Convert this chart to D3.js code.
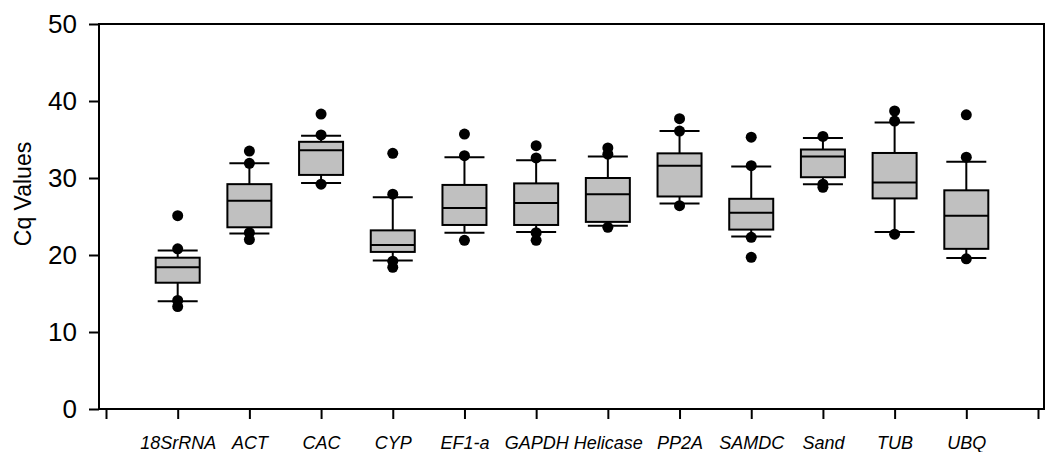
<!DOCTYPE html>
<html>
<head>
<meta charset="utf-8">
<script src="https://cdnjs.cloudflare.com/ajax/libs/d3/7.8.5/d3.min.js"></script>
<style>
  body { margin: 0; background: #fff; }
  svg { display: block; font-family: Arial, "Liberation Sans", sans-serif; }
</style>
</head>
<body>
<div id="chart"></div>
<script>
// 1. data
var genes    = ["18SrRNA", "ACT", "CAC", "CYP", "EF1-a", "GAPDH", "Helicase", "PP2A", "SAMDC", "Sand", "TUB", "UBQ"];
var q1       = [16.4, 23.6, 30.4, 20.4, 23.9, 23.9, 24.3, 27.6, 23.3, 30.1, 27.35, 20.8];
var medians  = [18.4, 27.05, 33.6, 21.3, 26.1, 26.75, 27.9, 31.6, 25.5, 32.8, 29.4, 25.1];
var q3       = [19.65, 29.2, 34.7, 23.2, 29.1, 29.3, 30.0, 33.2, 27.3, 33.7, 33.25, 28.4];
var whiskLo  = [14.0, 22.8, 29.35, 19.3, 22.9, 23.0, 23.8, 26.7, 22.4, 29.2, 23.0, 19.6];
var whiskHi  = [20.6, 31.9, 35.5, 27.5, 32.7, 32.3, 32.8, 36.1, 31.5, 35.2, 37.2, 32.1];
var outliers = [
  [25.1, 20.8, 14.1, 13.3],
  [33.5, 31.9, 22.9, 22.0],
  [38.3, 35.6, 29.2],
  [33.2, 27.9, 19.2, 18.4],
  [35.7, 32.9, 21.9],
  [34.2, 32.6, 22.9, 21.9],
  [33.9, 33.1, 23.6],
  [37.7, 36.1, 26.4],
  [35.3, 31.6, 22.3, 19.7],
  [35.4, 29.2, 28.8],
  [38.7, 37.4, 22.7],
  [38.2, 32.7, 19.5]
];
var yTicks = [0, 10, 20, 30, 40, 50];

var width = 1048, height = 452;
var plotL = 99, plotR = 1044, plotT = 24, plotB = 409;

var svg = d3.select("#chart").append("svg")
  .attr("width", width)
  .attr("height", height);

// 2. scales
var x = d3.scaleLinear().domain([0, genes.length + 1]).range([106, 1038]);
var y = d3.scaleLinear().domain([0, 50]).range([plotB, plotT]);

// frame (top + right)
svg.append("path")
  .attr("d", "M" + plotL + "," + plotT + "H" + plotR + "V" + plotB)
  .attr("fill", "none")
  .attr("stroke", "#000")
  .attr("stroke-width", 2);

// 3. axes
var xAxis = d3.axisBottom(x)
  .tickValues(d3.range(0, genes.length + 2))
  .tickSize(10)
  .tickFormat(function(d) { return (d >= 1 && d <= genes.length) ? genes[d - 1] : ""; });

var gx = svg.append("g")
  .attr("transform", "translate(0," + plotB + ")")
  .call(xAxis);
gx.select(".domain").remove();
gx.append("line")
  .attr("x1", plotL - 1).attr("x2", plotR + 1)
  .attr("stroke", "#000").attr("stroke-width", 2);
gx.selectAll(".tick line").attr("stroke", "#000").attr("stroke-width", 2);
gx.selectAll(".tick text")
  .attr("y", 27)
  .attr("fill", "#000")
  .style("font-size", "18px")
  .style("font-style", "italic")
  .style("font-family", "Arial, 'Liberation Sans', sans-serif");

var yAxis = d3.axisLeft(y)
  .tickValues(yTicks)
  .tickSize(10)
  .tickPadding(12);

var gy = svg.append("g")
  .attr("transform", "translate(" + plotL + ",0)")
  .call(yAxis);
gy.select(".domain").remove();
gy.append("line")
  .attr("y1", plotT - 1).attr("y2", plotB + 1)
  .attr("stroke", "#000").attr("stroke-width", 2);
gy.selectAll(".tick line").attr("stroke", "#000").attr("stroke-width", 2);
gy.selectAll(".tick text")
  .attr("fill", "#000")
  .style("font-size", "26px")
  .style("font-family", "Arial, 'Liberation Sans', sans-serif");

svg.append("text")
  .attr("transform", "translate(31,194) rotate(-90)")
  .attr("text-anchor", "middle")
  .style("font-size", "23px")
  .text("Cq Values");

// 4. boxes
var boxW = 44, capW = 40;
var boxes = svg.append("g").selectAll("g")
  .data(genes)
  .enter().append("g");

boxes.append("line")
  .attr("x1", function(d, i) { return x(i + 1); })
  .attr("x2", function(d, i) { return x(i + 1); })
  .attr("y1", function(d, i) { return y(whiskLo[i]); })
  .attr("y2", function(d, i) { return y(whiskHi[i]); })
  .attr("stroke", "#000").attr("stroke-width", 2);

boxes.append("line")
  .attr("x1", function(d, i) { return x(i + 1) - capW / 2; })
  .attr("x2", function(d, i) { return x(i + 1) + capW / 2; })
  .attr("y1", function(d, i) { return y(whiskLo[i]); })
  .attr("y2", function(d, i) { return y(whiskLo[i]); })
  .attr("stroke", "#000").attr("stroke-width", 2);

boxes.append("line")
  .attr("x1", function(d, i) { return x(i + 1) - capW / 2; })
  .attr("x2", function(d, i) { return x(i + 1) + capW / 2; })
  .attr("y1", function(d, i) { return y(whiskHi[i]); })
  .attr("y2", function(d, i) { return y(whiskHi[i]); })
  .attr("stroke", "#000").attr("stroke-width", 2);

boxes.append("rect")
  .attr("x", function(d, i) { return x(i + 1) - boxW / 2; })
  .attr("y", function(d, i) { return y(q3[i]); })
  .attr("width", boxW)
  .attr("height", function(d, i) { return y(q1[i]) - y(q3[i]); })
  .attr("fill", "#c0c0c0")
  .attr("stroke", "#000").attr("stroke-width", 2);

boxes.append("line")
  .attr("x1", function(d, i) { return x(i + 1) - boxW / 2; })
  .attr("x2", function(d, i) { return x(i + 1) + boxW / 2; })
  .attr("y1", function(d, i) { return y(medians[i]); })
  .attr("y2", function(d, i) { return y(medians[i]); })
  .attr("stroke", "#000").attr("stroke-width", 2);

boxes.each(function(d, i) {
  d3.select(this).selectAll("circle")
    .data(outliers[i])
    .enter().append("circle")
    .attr("cx", x(i + 1))
    .attr("cy", function(v) { return y(v); })
    .attr("r", 5.5)
    .attr("fill", "#000");
});
</script>
</body>
</html>
